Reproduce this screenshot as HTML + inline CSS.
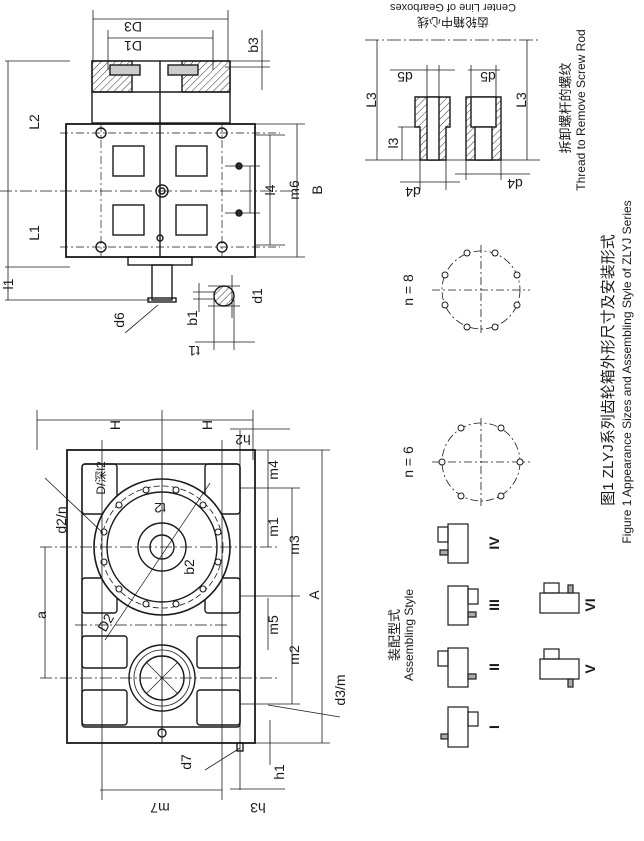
<!DOCTYPE html>
<html><head><meta charset="utf-8"><style>
html,body{margin:0;padding:0;background:#fff;}
svg{display:block;}
text{font-family:"Liberation Sans","Noto Sans CJK SC",sans-serif;fill:#1a1a1a;}
</style></head><body>
<svg width="644" height="841" viewBox="0 0 644 841" xmlns="http://www.w3.org/2000/svg">
<defs>
<pattern id="h" width="5" height="5" patternUnits="userSpaceOnUse" patternTransform="rotate(45)"><line x1="0" y1="0" x2="0" y2="5" stroke="#333" stroke-width="1"/></pattern>
</defs>
<g fill="none" stroke="#1a1a1a" stroke-width="1.4">
<!-- ===== top view ===== -->
<rect x="92" y="61" width="138" height="62"/>
<rect x="92" y="61" width="40" height="31" fill="url(#h)"/>
<rect x="182" y="61" width="48" height="31" fill="url(#h)"/>
<rect x="110" y="65" width="30" height="10" fill="#ccc"/>
<rect x="168" y="65" width="30" height="10" fill="#ccc"/>
<line x1="92" y1="92" x2="230" y2="92"/>
<rect x="66" y="124" width="189" height="133" stroke-width="1.8"/>
<line x1="160" y1="61" x2="160" y2="257"/>
<line x1="0" y1="191" x2="300" y2="191" stroke-dasharray="12,3,2,3" stroke-width="0.8"/>
<line x1="101" y1="124" x2="101" y2="257" stroke-dasharray="8,3,2,3" stroke-width="0.7"/>
<line x1="222" y1="124" x2="222" y2="257" stroke-dasharray="8,3,2,3" stroke-width="0.7"/>
<line x1="60" y1="133" x2="280" y2="133" stroke-dasharray="8,3,2,3" stroke-width="0.7"/>
<line x1="60" y1="247" x2="280" y2="247" stroke-dasharray="8,3,2,3" stroke-width="0.7"/>
<circle cx="101" cy="133" r="5"/><circle cx="222" cy="133" r="5"/>
<circle cx="101" cy="247" r="5"/><circle cx="222" cy="247" r="5"/>
<rect x="113" y="146" width="31" height="30"/><rect x="176" y="146" width="31" height="30"/>
<rect x="113" y="205" width="31" height="30"/><rect x="176" y="205" width="31" height="30"/>
<circle cx="162" cy="191" r="6"/><circle cx="162" cy="191" r="3"/>
<circle cx="239" cy="166" r="3" fill="#333"/><circle cx="239" cy="213" r="3" fill="#333"/>
<circle cx="160" cy="238" r="3"/>
<rect x="128" y="257" width="64" height="8"/>
<rect x="152" y="265" width="20" height="35"/>
<rect x="148" y="298" width="28" height="4"/>
<circle cx="224" cy="296" r="10" fill="url(#h)"/>
<g stroke-width="0.8">
<line x1="93" y1="10" x2="93" y2="61"/><line x1="228" y1="10" x2="228" y2="61"/>
<line x1="93" y1="19" x2="228" y2="19"/>
<line x1="108" y1="30" x2="108" y2="70"/><line x1="213" y1="30" x2="213" y2="70"/>
<line x1="108" y1="38" x2="213" y2="38"/>
<line x1="225" y1="61" x2="270" y2="61"/><line x1="225" y1="67" x2="270" y2="67"/>
<line x1="262" y1="30" x2="262" y2="90"/>
<line x1="5" y1="61" x2="70" y2="61"/><line x1="5" y1="267" x2="70" y2="267"/><line x1="5" y1="300" x2="150" y2="300"/>
<line x1="8" y1="61" x2="8" y2="300"/>
<line x1="225" y1="166" x2="260" y2="166"/><line x1="225" y1="213" x2="260" y2="213"/>
<line x1="250" y1="166" x2="250" y2="213"/>
<line x1="255" y1="135" x2="285" y2="135"/><line x1="255" y1="245" x2="285" y2="245"/>
<line x1="270" y1="135" x2="270" y2="245"/>
<line x1="255" y1="124" x2="305" y2="124"/><line x1="255" y1="257" x2="305" y2="257"/>
<line x1="297" y1="124" x2="297" y2="257"/>
<line x1="208" y1="286" x2="240" y2="286"/><line x1="208" y1="306" x2="240" y2="306"/>
<line x1="232" y1="275" x2="232" y2="318"/>
<line x1="193" y1="292" x2="215" y2="292"/><line x1="193" y1="299" x2="215" y2="299"/>
<line x1="199" y1="283" x2="199" y2="312"/>
<line x1="214" y1="292" x2="214" y2="350"/><line x1="234" y1="300" x2="234" y2="350"/>
<line x1="195" y1="342" x2="255" y2="342"/>
<polyline points="125,333 158,305"/>
</g>
<!-- ===== front view ===== -->
<rect x="67" y="450" width="188" height="293" stroke-width="1.8"/>
<rect x="82" y="464" width="158" height="263" rx="3"/>
<rect x="82" y="464" width="35" height="50" rx="3"/>
<rect x="205" y="464" width="35" height="50" rx="3"/>
<rect x="82" y="578" width="35" height="35" rx="3"/>
<rect x="205" y="578" width="35" height="35" rx="3"/>
<rect x="82" y="636" width="45" height="32" rx="3"/>
<rect x="197" y="636" width="43" height="32" rx="3"/>
<rect x="82" y="690" width="45" height="35" rx="3"/>
<rect x="197" y="690" width="43" height="35" rx="3"/>
<circle cx="162" cy="547" r="68" fill="#fff" stroke-width="1.6"/>
<circle cx="162" cy="547" r="61" stroke-dasharray="6,3" stroke-width="0.8"/>
<circle cx="162" cy="547" r="55"/>
<circle cx="162" cy="547" r="24"/>
<circle cx="162" cy="547" r="12"/>
<g fill="#fff" stroke-width="1.1">
<circle cx="146" cy="490" r="3"/><circle cx="176" cy="490" r="3"/>
<circle cx="119" cy="505" r="3"/><circle cx="203" cy="505" r="3"/>
<circle cx="104" cy="532" r="3"/><circle cx="218" cy="532" r="3"/>
<circle cx="104" cy="562" r="3"/><circle cx="218" cy="562" r="3"/>
<circle cx="119" cy="589" r="3"/><circle cx="203" cy="589" r="3"/>
<circle cx="146" cy="604" r="3"/><circle cx="176" cy="604" r="3"/>
</g>
<circle cx="162" cy="678" r="33" fill="#fff"/>
<circle cx="162" cy="678" r="28" stroke-width="0.8"/>
<circle cx="162" cy="678" r="22"/>
<line x1="146" y1="662" x2="178" y2="694" stroke-width="0.7"/><line x1="178" y1="662" x2="146" y2="694" stroke-width="0.7"/>
<line x1="162" y1="450" x2="162" y2="743" stroke-width="0.9"/>
<circle cx="162" cy="733" r="4"/>
<line x1="40" y1="547" x2="280" y2="547" stroke-dasharray="12,3,2,3" stroke-width="0.8"/>
<line x1="40" y1="678" x2="280" y2="678" stroke-dasharray="12,3,2,3" stroke-width="0.8"/>
<line x1="75" y1="625" x2="230" y2="625" stroke-dasharray="12,3,2,3" stroke-width="0.7"/>
<line x1="210" y1="483" x2="105" y2="640" stroke-width="0.7"/>
<rect x="237" y="743" width="6" height="8"/>
<g stroke-width="0.8">
<line x1="102" y1="440" x2="102" y2="800"/><line x1="222" y1="440" x2="222" y2="800"/>
<line x1="37" y1="410" x2="37" y2="450"/><line x1="253" y1="410" x2="253" y2="460"/>
<line x1="162" y1="410" x2="162" y2="450"/>
<line x1="37" y1="420" x2="253" y2="420"/>
<line x1="230" y1="429" x2="290" y2="429"/>
<line x1="240" y1="430" x2="240" y2="790"/>
<line x1="255" y1="450" x2="330" y2="450"/><line x1="255" y1="743" x2="330" y2="743"/>
<line x1="322" y1="450" x2="322" y2="743"/>
<line x1="240" y1="488" x2="300" y2="488"/><line x1="240" y1="596" x2="300" y2="596"/><line x1="240" y1="704" x2="300" y2="704"/>
<line x1="292" y1="488" x2="292" y2="704"/>
<line x1="268" y1="450" x2="268" y2="547"/><line x1="268" y1="598" x2="268" y2="650"/>
<line x1="45" y1="547" x2="45" y2="678"/>
<line x1="100" y1="790" x2="222" y2="790"/>
<line x1="230" y1="789" x2="285" y2="789"/>
<line x1="270" y1="720" x2="270" y2="765"/>
<line x1="268" y1="705" x2="340" y2="717"/>
<line x1="45" y1="478" x2="103" y2="533"/>
<polyline points="205,770 240,748"/>
</g>
<!-- ===== screw rods ===== -->
<line x1="365" y1="40" x2="540" y2="40" stroke-dasharray="14,3,2,3" stroke-width="0.8"/>
<line x1="365" y1="160" x2="540" y2="160" stroke-width="0.8"/>
<path d="M415,97 L450,97 L450,127 L446,127 L446,160 L420,160 L420,127 L415,127 Z" fill="url(#h)"/>
<rect x="427" y="97" width="12" height="63" fill="#fff"/>
<path d="M466,97 L501,97 L501,160 L466,160 Z" fill="url(#h)"/>
<rect x="471" y="97" width="25" height="30" fill="#fff"/>
<rect x="475" y="127" width="17" height="33" fill="#fff"/>
<g stroke-width="0.8">
<line x1="377" y1="40" x2="377" y2="160"/><line x1="527" y1="40" x2="527" y2="160"/>
<line x1="402" y1="127" x2="402" y2="160"/><line x1="398" y1="127" x2="420" y2="127"/>
<line x1="420" y1="160" x2="420" y2="190"/><line x1="446" y1="160" x2="446" y2="190"/>
<line x1="400" y1="182" x2="460" y2="182"/>
<line x1="466" y1="160" x2="466" y2="180"/><line x1="501" y1="160" x2="501" y2="180"/>
<line x1="455" y1="174" x2="530" y2="174"/>
<line x1="427" y1="65" x2="427" y2="97"/><line x1="439" y1="65" x2="439" y2="97"/>
<line x1="390" y1="70" x2="455" y2="70"/>
<line x1="471" y1="65" x2="471" y2="97"/><line x1="496" y1="65" x2="496" y2="97"/>
<line x1="468" y1="70" x2="500" y2="70"/>
</g>
<g stroke-width="0.8">
<circle cx="481" cy="290" r="39" stroke-dasharray="8,3,2,3"/>
<line x1="432" y1="290" x2="530" y2="290" stroke-dasharray="8,3,2,3"/>
<line x1="481" y1="245" x2="481" y2="335" stroke-dasharray="8,3,2,3"/>
<circle cx="481" cy="462" r="39" stroke-dasharray="8,3,2,3"/>
<line x1="432" y1="462" x2="530" y2="462" stroke-dasharray="8,3,2,3"/>
<line x1="481" y1="418" x2="481" y2="506" stroke-dasharray="8,3,2,3"/>
</g>
<g fill="#fff" stroke-width="1">
<circle cx="467" cy="253" r="3"/><circle cx="495" cy="253" r="3"/>
<circle cx="445" cy="275" r="3"/><circle cx="517" cy="275" r="3"/>
<circle cx="445" cy="305" r="3"/><circle cx="517" cy="305" r="3"/>
<circle cx="467" cy="327" r="3"/><circle cx="495" cy="327" r="3"/>
<circle cx="442" cy="462" r="3"/><circle cx="520" cy="462" r="3"/>
<circle cx="461" cy="428" r="3"/><circle cx="501" cy="428" r="3"/>
<circle cx="461" cy="496" r="3"/><circle cx="501" cy="496" r="3"/>
</g>
<g stroke-width="1.2">
<rect x="448" y="707" width="20" height="40"/><rect x="468" y="712" width="10" height="14"/><rect x="441" y="734" width="7" height="5" fill="#aaa"/>
<rect x="448" y="648" width="20" height="39"/><rect x="438" y="651" width="10" height="15"/><rect x="468" y="674" width="8" height="5" fill="#aaa"/>
<rect x="448" y="586" width="20" height="39"/><rect x="468" y="589" width="10" height="15"/><rect x="468" y="612" width="8" height="5" fill="#aaa"/>
<rect x="448" y="524" width="20" height="39"/><rect x="438" y="527" width="10" height="15"/><rect x="440" y="550" width="8" height="5" fill="#aaa"/>
<rect x="540" y="659" width="39" height="20"/><rect x="544" y="649" width="15" height="10"/><rect x="568" y="679" width="5" height="8" fill="#aaa"/>
<rect x="540" y="593" width="39" height="20"/><rect x="544" y="583" width="15" height="10"/><rect x="568" y="585" width="5" height="8" fill="#aaa"/>
</g>
</g>
<!-- ===== labels ===== -->
<g font-size="14">
<text transform="translate(133,22) rotate(180)" text-anchor="middle">D3</text>
<text transform="translate(133,41) rotate(180)" text-anchor="middle">D1</text>
<text transform="translate(258,45) rotate(-90)" text-anchor="middle">b3</text>
<text transform="translate(39,122) rotate(-90)" text-anchor="middle">L2</text>
<text transform="translate(39,233) rotate(-90)" text-anchor="middle">L1</text>
<text transform="translate(13,284) rotate(-90)" text-anchor="middle">l1</text>
<text transform="translate(275,190) rotate(-90)" text-anchor="middle">l4</text>
<text transform="translate(299,190) rotate(-90)" text-anchor="middle">m6</text>
<text transform="translate(322,190) rotate(-90)" text-anchor="middle">B</text>
<text transform="translate(124,320) rotate(-90)" text-anchor="middle">d6</text>
<text transform="translate(197,318) rotate(-90)" text-anchor="middle">b1</text>
<text transform="translate(262,296) rotate(-90)" text-anchor="middle">d1</text>
<text transform="translate(194,346) rotate(180)" text-anchor="middle">t1</text>
<text transform="translate(120,425) rotate(-90)" text-anchor="middle">H</text>
<text transform="translate(212,425) rotate(-90)" text-anchor="middle">H</text>
<text transform="translate(243,435) rotate(180)" text-anchor="middle">h2</text>
<text transform="translate(66,520) rotate(-90)" text-anchor="middle">d2/n</text>
<text transform="translate(105,478) rotate(-90)" text-anchor="middle" font-size="12">D/深l2</text>
<text transform="translate(160,503) rotate(180)" text-anchor="middle">t2</text>
<text transform="translate(194,567) rotate(-90)" text-anchor="middle">b2</text>
<text transform="translate(110,625) rotate(-60)" text-anchor="middle">D2</text>
<text transform="translate(46,615) rotate(-90)" text-anchor="middle">a</text>
<text transform="translate(278,470) rotate(-90)" text-anchor="middle">m4</text>
<text transform="translate(278,527) rotate(-90)" text-anchor="middle">m1</text>
<text transform="translate(299,545) rotate(-90)" text-anchor="middle">m3</text>
<text transform="translate(319,595) rotate(-90)" text-anchor="middle">A</text>
<text transform="translate(278,625) rotate(-90)" text-anchor="middle">m5</text>
<text transform="translate(299,655) rotate(-90)" text-anchor="middle">m2</text>
<text transform="translate(345,690) rotate(-90)" text-anchor="middle">d3/m</text>
<text transform="translate(191,762) rotate(-90)" text-anchor="middle">d7</text>
<text transform="translate(284,772) rotate(-90)" text-anchor="middle">h1</text>
<text transform="translate(160,803) rotate(180)" text-anchor="middle">m7</text>
<text transform="translate(258,803) rotate(180)" text-anchor="middle">h3</text>
<text transform="translate(405,72) rotate(180)" text-anchor="middle">d5</text>
<text transform="translate(488,72) rotate(180)" text-anchor="middle">d5</text>
<text transform="translate(413,187) rotate(180)" text-anchor="middle">d4</text>
<text transform="translate(515,179) rotate(180)" text-anchor="middle">d4</text>
<text transform="translate(376,100) rotate(-90)" text-anchor="middle">L3</text>
<text transform="translate(526,100) rotate(-90)" text-anchor="middle">L3</text>
<text transform="translate(398,143) rotate(-90)" text-anchor="middle">l3</text>
<text transform="translate(413,290) rotate(-90)" text-anchor="middle">n = 8</text>
<text transform="translate(413,462) rotate(-90)" text-anchor="middle">n = 6</text>
<text transform="translate(499,667) rotate(-90)" text-anchor="middle" font-family="Liberation Serif" font-weight="bold">II</text>
<text transform="translate(499,727) rotate(-90)" text-anchor="middle" font-family="Liberation Serif" font-weight="bold">I</text>
<text transform="translate(499,605) rotate(-90)" text-anchor="middle" font-family="Liberation Serif" font-weight="bold">III</text>
<text transform="translate(499,543) rotate(-90)" text-anchor="middle" font-family="Liberation Serif" font-weight="bold">IV</text>
<text transform="translate(595,669) rotate(-90)" text-anchor="middle" font-family="Liberation Serif" font-weight="bold">V</text>
<text transform="translate(595,605) rotate(-90)" text-anchor="middle" font-family="Liberation Serif" font-weight="bold">VI</text>
</g>
<g font-size="12">
<text transform="translate(453,18) rotate(180)" text-anchor="middle" font-size="12">齿轮箱中心线</text>
<text transform="translate(453,4) rotate(180)" text-anchor="middle" font-size="11">Center Line of Gearboxes</text>
<text transform="translate(570,108) rotate(-90)" text-anchor="middle" font-size="13">拆卸螺杆的螺纹</text>
<text transform="translate(585,110) rotate(-90)" text-anchor="middle">Thread to Remove Screw Rod</text>
<text transform="translate(399,635) rotate(-90)" text-anchor="middle" font-size="13">装配型式</text>
<text transform="translate(413,635) rotate(-90)" text-anchor="middle">Assembling Style</text>
<text transform="translate(613,370) rotate(-90)" text-anchor="middle" font-size="15">图1 ZLYJ系列齿轮箱外形尺寸及安装形式</text>
<text transform="translate(631,372) rotate(-90)" text-anchor="middle" font-size="12">Figure 1  Appearance Sizes and Assembling Style of ZLYJ Series</text>
</g>
</svg>
</body></html>
